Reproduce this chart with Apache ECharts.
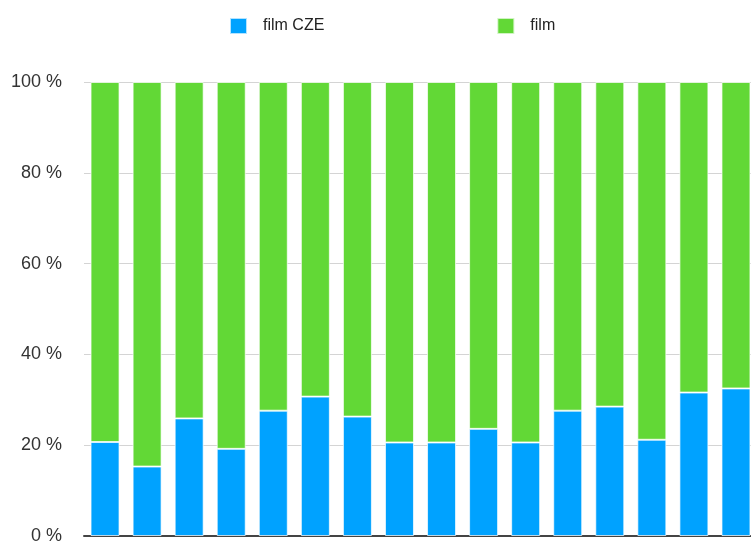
<!DOCTYPE html>
<html>
<head>
<meta charset="utf-8">
<script src="https://cdn.jsdelivr.net/npm/echarts@6/dist/echarts.min.js"></script>
<style>
html,body{margin:0;padding:0;background:#fff;}
#chart{width:751px;height:543px;}
</style>
</head>
<body>
<div id="chart"></div>
<script>
const categories = ['1','2','3','4','5','6','7','8','9','10','11','12','13','14','15','16'];
const filmCZE = [20.7, 15.3, 25.9, 19.2, 27.6, 30.7, 26.3, 20.6, 20.6, 23.6, 20.6, 27.6, 28.5, 21.2, 31.6, 32.5];
const film    = [79.3, 84.7, 74.1, 80.8, 72.4, 69.3, 73.7, 79.4, 79.4, 76.4, 79.4, 72.4, 71.5, 78.8, 68.4, 67.5];
const yTicks = [0, 20, 40, 60, 80, 100];

const chart = echarts.init(document.getElementById('chart'), null, {renderer: 'canvas'});
chart.setOption({
  animation: false,
  backgroundColor: '#fff',
  legend: {
    left: 229,
    top: 17,
    padding: 0,
    itemWidth: 17,
    itemHeight: 16,
    itemGap: 172,
    icon: 'rect',
    textStyle: {fontFamily: 'Liberation Sans, Arial, sans-serif', fontSize: 16, color: '#222', padding: [0, 0, 0, 11]},
    data: ['film CZE', 'film']
  },
  grid: {left: 84, right: -6, top: 82, bottom: 7, containLabel: false, outerBoundsMode: 'none'},
  xAxis: {
    type: 'category',
    data: categories,
    axisLine: {show: true, lineStyle: {color: '#444', width: 2}},
    axisTick: {show: false},
    axisLabel: {show: false}
  },
  yAxis: {
    type: 'value',
    min: yTicks[0],
    max: yTicks[yTicks.length - 1],
    interval: 20,
    axisLine: {show: false},
    axisTick: {show: false},
    axisLabel: {
      formatter: '{value} %',
      margin: 22,
      fontFamily: 'Liberation Sans, Arial, sans-serif',
      fontSize: 18,
      color: '#333'
    },
    splitLine: {lineStyle: {color: '#d4d4d4', width: 1}}
  },
  series: [
    {
      name: 'film CZE',
      type: 'bar',
      stack: 'total',
      barWidth: 29,
      data: filmCZE,
      itemStyle: {color: '#00a2ff', borderColor: 'rgba(255,255,255,0.7)', borderWidth: 1}
    },
    {
      name: 'film',
      type: 'bar',
      stack: 'total',
      barWidth: 29,
      data: film,
      itemStyle: {color: '#62d836', borderColor: 'rgba(255,255,255,0.7)', borderWidth: 1}
    }
  ]
});
</script>
</body>
</html>
